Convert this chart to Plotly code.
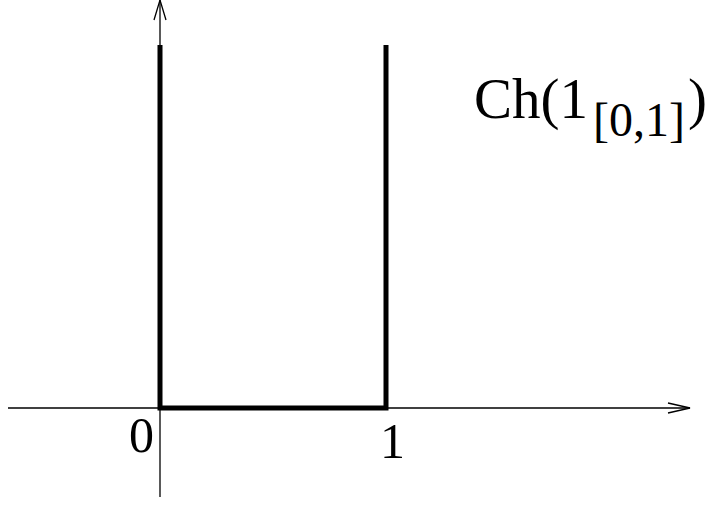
import plotly.graph_objects as go

# indicator function of [0,1], drawn as its graph with vertical walls
step_x = [0, 0, 1, 1]
step_y = [1, 0, 0, 1]
tick_vals = [0, 1]
tick_text = ["0", "1"]

W, H = 712, 507
X0_PX, X1_PX = 160, 386   # pixel columns of x=0 and x=1
Y0_PX, Y1_PX = 408, 45    # pixel rows of y=0 and y=1


def dx(px):
    return (px - X0_PX) / (X1_PX - X0_PX)


def dy(py):
    return (py - Y0_PX) / (Y1_PX - Y0_PX)


FONT = "Liberation Serif, Times New Roman, serif"
AXC = "black"

fig = go.Figure()
fig.add_trace(go.Scatter(
    x=step_x, y=step_y, mode="lines",
    line=dict(color="black", width=5),
    hoverinfo="skip", showlegend=False,
))

shapes = [
    # x axis and arrow head
    dict(type="line", x0=dx(8), x1=dx(690), y0=0, y1=0, line=dict(color=AXC, width=1.3)),
    dict(type="path", path=f"M {dx(668)} {dy(403)} L {dx(690)} {dy(408)} L {dx(668)} {dy(413)}",
         line=dict(color=AXC, width=1.3)),
    # y axis and arrow head
    dict(type="line", x0=0, x1=0, y0=dy(497), y1=dy(0), line=dict(color=AXC, width=1.3)),
    dict(type="path", path=f"M {dx(154)} {dy(20)} L {dx(160)} {dy(0)} L {dx(166)} {dy(20)}",
         line=dict(color=AXC, width=1.3)),
]
for s in shapes:
    s.update(xref="x", yref="y", layer="below")

annotations = [
    dict(x=dx(141), y=dy(435), text=tick_text[0], xanchor="center", yanchor="middle"),
    dict(x=dx(392), y=dy(441), text=tick_text[1], xanchor="center", yanchor="middle"),
    dict(x=dx(472), y=dy(99), text="Ch(1", xanchor="left", yanchor="middle", font=dict(size=57)),
    dict(x=dx(591), y=dy(119), text="[0,1]", xanchor="left", yanchor="middle", font=dict(size=48)),
    dict(x=dx(686), y=dy(99), text=")", xanchor="left", yanchor="middle", font=dict(size=57)),
]
for a in annotations:
    a.update(xref="x", yref="y", showarrow=False)
    f = a.get("font", dict(size=50))
    f.update(family=FONT, color="black")
    a["font"] = f

fig.update_layout(
    width=W, height=H,
    margin=dict(l=0, r=0, t=0, b=0),
    paper_bgcolor="white", plot_bgcolor="white",
    shapes=shapes, annotations=annotations,
    xaxis=dict(range=[dx(0), dx(W)], visible=False, fixedrange=True),
    yaxis=dict(range=[dy(H), dy(0)], visible=False, fixedrange=True),
)

fig.write_html("out.html", config=dict(displayModeBar=False),
               post_script="document.body.style.margin='0';")
